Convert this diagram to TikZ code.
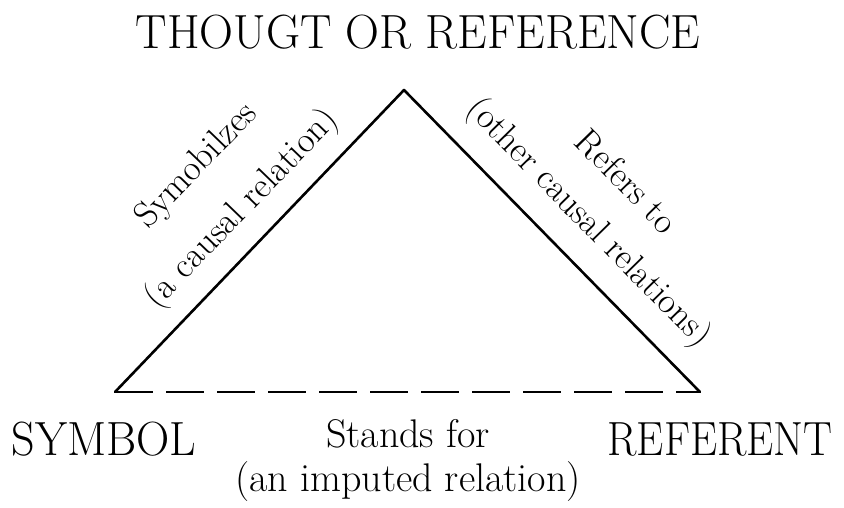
\documentclass[tikz,border=0pt]{standalone}
\usepackage{xcolor}
\definecolor{diagink}{HTML}{000000}

\begin{document}
\begin{tikzpicture}[x=1pt, y=-1pt,
                    every node/.style={diagink, inner sep=0pt},
                    corner/.style={font=\fontsize{48}{52}\selectfont},
                    rel/.style={font=\fontsize{36}{40}\selectfont},
                    side/.style={diagink, line width=2.6pt, line join=round, line cap=round}]

  %% picture frame
  \useasboundingbox (0,0) rectangle (844,507);

  %% three corners of the triangle
  \coordinate (apex) at (404,90);
  \coordinate (lcorner) at (115,392);
  \coordinate (rcorner) at (700,392);

  %% solid sides and dashed base
  \draw[side] (lcorner) -- (apex) -- (rcorner);
  \draw[side, line cap=butt, dash pattern=on 38pt off 13pt] (lcorner) -- (rcorner);

  %% corner names
  \node[corner, xscale=0.98] (thought) at (418,32) {THOUGT OR REFERENCE};
  \node[corner, xscale=0.96] (symbol) at (104,439) {SYMBOL};
  \node[corner, xscale=0.9] (referent) at (720,439) {REFERENT};

  %% left side
  \node[rel, rotate=46] (symb) at (197,166) {Symobilzes};
  \node[rel, rotate=46] (symbrel) at (242,209) {(a causal relation)};

  %% right side
  \node[rel, rotate=-45.6] (refers) at (627,181) {Refers to};
  \node[rel, rotate=-45.6] (refersrel) at (588,223) {(other causal relations)};

  %% base
  \node[rel, font=\fontsize{40}{44}\selectfont] (stands) at (408,434) {Stands for};
  \node[rel, font=\fontsize{40}{44}\selectfont] (standsrel) at (408,482) {(an imputed relation)};

\end{tikzpicture}
\end{document}
